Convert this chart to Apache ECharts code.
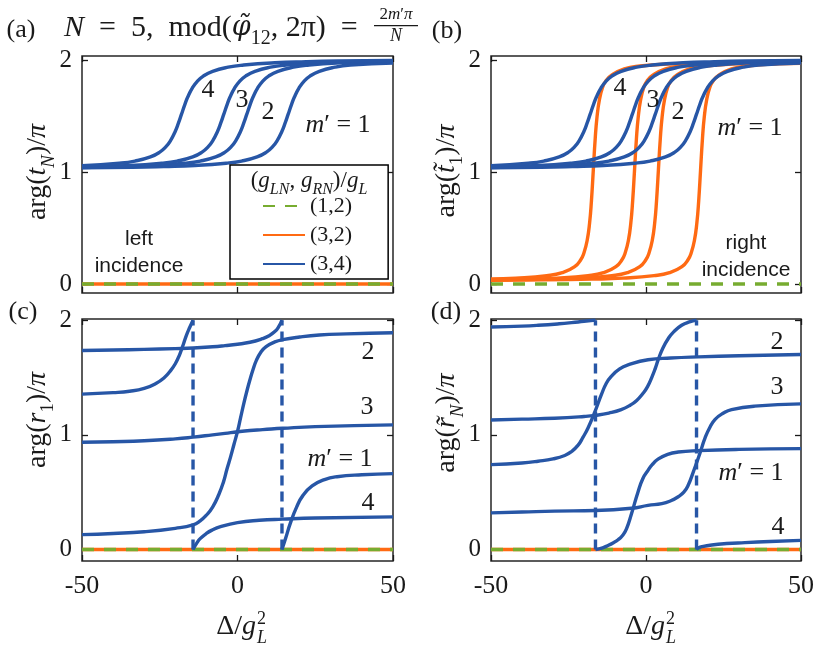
<!DOCTYPE html>
<html><head><meta charset="utf-8">
<script src="https://cdn.jsdelivr.net/npm/echarts@6/dist/echarts.min.js"></script>
<style>html,body{margin:0;padding:0;background:#fff}#c{width:831px;height:652px}</style>
</head><body><div id="c"></div>
<script>
// ---------------- data ----------------
const xTickValues = [-50, 0, 50];
const yTickValues = [0, 1, 2];
const zeroLine = [[-50, 0], [50, 0]];
const legendNames = ['(1,2)', '(3,2)', '(3,4)'];

// (a) arg(t_N)/pi and (b) arg(t~_1)/pi, (3,4) blue curves, m' = 1..4
const tBlue1 = [[-50,1.039],[-33.7,1.044],[-23.7,1.051],[-13.7,1.061],[-3.7,1.081],[1.3,1.100],[6.3,1.137],[9.3,1.180],[11.3,1.229],[12.8,1.285],[14.3,1.367],[15.3,1.439],[16.3,1.52],[17.3,1.601],[18.3,1.673],[19.8,1.755],[21.3,1.811],[23.3,1.860],[26.3,1.903],[31.3,1.940],[36.3,1.959],[50,1.976]];
const tBlue2 = [[-50,1.043],[-37,1.051],[-27,1.061],[-17,1.081],[-12,1.100],[-7,1.137],[-4,1.180],[-2,1.229],[-0.5,1.285],[1,1.367],[2,1.439],[3,1.52],[4,1.601],[5,1.673],[6.5,1.755],[8,1.811],[10,1.860],[13,1.903],[18,1.940],[23,1.959],[33,1.979],[43,1.989],[50,1.993]];
const tBlue3 = [[-50,1.047],[-34.4,1.061],[-24.4,1.081],[-19.4,1.100],[-14.4,1.137],[-11.4,1.180],[-9.4,1.229],[-7.9,1.285],[-6.4,1.367],[-5.4,1.439],[-4.4,1.52],[-3.4,1.601],[-2.4,1.673],[-0.9,1.755],[0.6,1.811],[2.6,1.860],[5.6,1.903],[10.6,1.940],[15.6,1.959],[25.6,1.979],[35.6,1.989],[50,1.996]];
const tBlue4 = [[-50,1.059],[-38,1.081],[-33,1.100],[-28,1.137],[-25,1.180],[-23,1.229],[-21.5,1.285],[-20,1.367],[-19,1.439],[-18,1.52],[-17,1.601],[-16,1.673],[-14.5,1.755],[-13,1.811],[-11,1.860],[-8,1.903],[-3,1.940],[2,1.959],[12,1.979],[22,1.989],[32,1.995],[50,2.0]];

// (b) (3,2) orange curves, m' = 1..4
const tOrange1 = [[-50,0.033],[-32.4,0.037],[-17.4,0.044],[-7.4,0.053],[2.6,0.075],[7.6,0.102],[11.6,0.156],[13.6,0.220],[14.6,0.280],[15.6,0.387],[16.4,0.545],[17,0.745],[17.6,1.02],[18.2,1.295],[18.8,1.495],[19.6,1.653],[20.6,1.760],[21.6,1.815],[23.6,1.87],[27.6,1.925],[32.6,1.95],[42.6,1.97],[50,1.975]];
const tOrange2 = [[-50,0.036],[-46,0.037],[-31,0.044],[-21,0.053],[-11,0.075],[-6,0.102],[-2,0.156],[0,0.220],[1,0.280],[2,0.387],[2.8,0.545],[3.4,0.745],[4,1.02],[4.6,1.295],[5.2,1.495],[6,1.653],[7,1.760],[8,1.815],[10,1.87],[14,1.925],[19,1.95],[29,1.97],[39,1.978],[50,1.982]];
const tOrange3 = [[-50,0.038],[-38.7,0.044],[-28.7,0.053],[-18.7,0.075],[-13.7,0.102],[-9.7,0.156],[-7.7,0.220],[-6.7,0.280],[-5.7,0.387],[-4.9,0.545],[-4.3,0.745],[-3.7,1.02],[-3.1,1.295],[-2.5,1.495],[-1.7,1.653],[-0.7,1.760],[0.3,1.815],[2.3,1.87],[6.3,1.925],[11.3,1.95],[21.3,1.97],[31.3,1.978],[50,1.985]];
const tOrange4 = [[-50,0.045],[-42,0.053],[-32,0.075],[-27,0.102],[-23,0.156],[-21,0.220],[-20,0.280],[-19,0.387],[-18.2,0.545],[-17.6,0.745],[-17,1.02],[-16.4,1.295],[-15.8,1.495],[-15,1.653],[-14,1.760],[-13,1.815],[-11,1.87],[-7,1.925],[-2,1.95],[8,1.97],[18,1.978],[33,1.984],[50,1.988]];

// (c) arg(r_1)/pi, (3,4) blue; "a" part before the 2 -> 0 wrap, "b" part after
const r1_m1a = [[-50,1.735],[-40,1.74],[-30,1.745],[-20,1.752],[-14.3,1.757],[-8,1.768],[-4,1.778],[0,1.79],[4,1.807],[8,1.838],[10,1.862],[12,1.9],[13.3,1.945],[14.3,2.0]];
const r1_m1b = [[14.3,0],[15.5,0.1],[17,0.23],[19,0.37],[21,0.47],[24,0.555],[28,0.61],[32,0.635],[40,0.652],[50,0.662]];
const r1_m2 = [[-50,0.13],[-40,0.14],[-30,0.155],[-20,0.185],[-14.3,0.215],[-12,0.25],[-10,0.30],[-8,0.37],[-6,0.48],[-4.5,0.59],[-3.4,0.7],[-2.2,0.81],[-1.1,0.92],[0,1.03],[1,1.15],[2,1.27],[3,1.38],[4,1.48],[5,1.57],[6,1.645],[7.5,1.72],[9.2,1.77],[12,1.81],[14.5,1.83],[20,1.853],[26.3,1.87],[35,1.88],[50,1.89]];
const r1_m3 = [[-50,0.935],[-40,0.94],[-30,0.948],[-20,0.965],[-14.3,0.98],[-8,1.0],[-4,1.013],[0,1.027],[4,1.038],[8.1,1.045],[14.5,1.057],[25,1.072],[50,1.087]];
const r1_m4a = [[-50,1.355],[-40,1.368],[-34.7,1.38],[-30,1.405],[-26.1,1.45],[-23.5,1.50],[-21.8,1.55],[-20,1.62],[-18.6,1.70],[-17.4,1.79],[-16.4,1.87],[-15.3,1.94],[-14.3,2.0]];
const r1_m4b = [[-14.3,0],[-13,0.06],[-12,0.095],[-10,0.14],[-8,0.172],[-5.7,0.198],[0,0.235],[7,0.255],[14.5,0.265],[25,0.275],[50,0.285]];
const r1_jumps = [-14.3, 14.3];

// (d) arg(r~_N)/pi, (3,4) blue
const rN_m1a = [[-50,1.94],[-40,1.948],[-34.8,1.955],[-28,1.968],[-24,1.978],[-20,1.99],[-16.3,2.0]];
const rN_m1b = [[-16.3,0],[-14,0.015],[-12.3,0.035],[-10.5,0.06],[-9,0.085],[-7.5,0.125],[-6.3,0.18],[-4.7,0.31],[-2.6,0.50],[-1,0.62],[0.65,0.69],[2,0.74],[4,0.79],[7,0.83],[10.4,0.85],[16.9,0.862],[30,0.873],[50,0.88]];
const rN_m2 = [[-50,0.74],[-40,0.755],[-34.8,0.77],[-30,0.79],[-26.2,0.82],[-24,0.855],[-21.9,0.91],[-20.3,0.98],[-18.7,1.06],[-16.5,1.20],[-14.4,1.35],[-12.8,1.45],[-11.2,1.51],[-8.5,1.575],[-5.8,1.61],[0.65,1.655],[8,1.67],[16.9,1.68],[30,1.69],[50,1.70]];
const rN_m3 = [[-50,0.32],[-40,0.327],[-29.5,0.335],[-16.3,0.34],[-4.6,0.36],[0.65,0.385],[5.1,0.40],[8,0.425],[10.4,0.46],[12.2,0.50],[13.6,0.56],[15.3,0.68],[16.9,0.80],[18,0.89],[19,0.97],[20.5,1.06],[22.3,1.135],[25,1.19],[27.6,1.22],[35,1.25],[50,1.27]];
const rN_m4a = [[-50,1.13],[-40,1.137],[-29.5,1.145],[-20,1.16],[-16.3,1.17],[-12,1.19],[-8,1.22],[-5,1.26],[-3,1.30],[-1,1.36],[0.5,1.42],[2,1.51],[3,1.58],[4,1.66],[5.5,1.76],[7.2,1.84],[9,1.9],[11.5,1.955],[14,1.985],[16.3,2.0]];
const rN_m4b = [[16.3,0],[17,0.015],[18,0.025],[21.2,0.04],[26,0.052],[31.9,0.06],[40,0.07],[50,0.08]];
const rN_jumps = [-16.3, 16.3];

// ---------------- styling / layout ----------------
const SERIF = "'Liberation Serif','DejaVu Serif',serif";
const SANS = "'Liberation Sans',Arial,sans-serif";
const BLUE = '#2756a6', ORANGE = '#ff6a13', GREEN = '#77ac30', INK = '#1a1a1a';

const grids = [
  {left: 82, top: 56, width: 311, height: 237},
  {left: 491, top: 56, width: 310, height: 237},
  {left: 82, top: 319, width: 311, height: 242},
  {left: 491, top: 319, width: 310, height: 242}
];
const yRanges = [[-0.08, 2.04], [-0.08, 2.04], [-0.1, 2.01], [-0.1, 2.01]];

const tickStyle = {show: true, inside: true, length: 6, lineStyle: {color: INK, width: 1.3}};
const noLine = {show: false, onZero: false};
const xAxis = [], yAxis = [];
grids.forEach((g, i) => {
  xAxis.push({gridIndex: i, type: 'value', min: -50, max: 50, interval: 50, position: 'bottom',
    axisLine: noLine, splitLine: {show: false},
    axisTick: Object.assign({customValues: xTickValues}, tickStyle),
    axisLabel: {show: i >= 2, customValues: xTickValues, showMinLabel: true, showMaxLabel: true,
      fontFamily: SERIF, fontSize: 26, color: INK, margin: 12}});
  xAxis.push({gridIndex: i, type: 'value', min: -50, max: 50, interval: 50, position: 'top',
    axisLine: noLine, splitLine: {show: false},
    axisTick: Object.assign({customValues: xTickValues}, tickStyle), axisLabel: {show: false}});
  yAxis.push({gridIndex: i, type: 'value', min: yRanges[i][0], max: yRanges[i][1], position: 'left',
    axisLine: noLine, splitLine: {show: false},
    axisTick: Object.assign({customValues: yTickValues}, tickStyle),
    axisLabel: {show: true, customValues: yTickValues, showMinLabel: true, showMaxLabel: true,
      fontFamily: SERIF, fontSize: 25, color: INK, margin: 10}});
  yAxis.push({gridIndex: i, type: 'value', min: yRanges[i][0], max: yRanges[i][1], position: 'right',
    axisLine: noLine, splitLine: {show: false},
    axisTick: Object.assign({customValues: yTickValues}, tickStyle), axisLabel: {show: false}});
});

function ln(gi, name, data, color, dash) {
  return {type: 'line', name: name, xAxisIndex: gi * 2, yAxisIndex: gi * 2, data: data,
    symbol: 'none', smooth: dash ? false : 0.5, silent: true,
    lineStyle: {color: color, width: 3.4, type: dash || 'solid', cap: 'butt', join: 'round'},
    itemStyle: {color: color}, animation: false};
}
const GREEN_DASH = [12, 10];
const JUMP_DASH = [10, 6];

const series = [];
// orange layer
series.push(ln(0, '(3,2)', zeroLine, ORANGE));
[tOrange1, tOrange2, tOrange3, tOrange4].forEach(d => series.push(ln(1, '(3,2)', d, ORANGE)));
series.push(ln(2, '(3,2)', zeroLine, ORANGE));
series.push(ln(3, '(3,2)', zeroLine, ORANGE));
// green layer
[0, 1, 2, 3].forEach(gi => series.push(ln(gi, '(1,2)', zeroLine, GREEN, GREEN_DASH)));
// blue layer
[tBlue1, tBlue2, tBlue3, tBlue4].forEach(d => { series.push(ln(0, '(3,4)', d, BLUE)); });
[tBlue1, tBlue2, tBlue3, tBlue4].forEach(d => { series.push(ln(1, '(3,4)', d, BLUE)); });
[r1_m1a, r1_m1b, r1_m2, r1_m3, r1_m4a, r1_m4b].forEach(d => series.push(ln(2, '(3,4)', d, BLUE)));
[rN_m1a, rN_m1b, rN_m2, rN_m3, rN_m4a, rN_m4b].forEach(d => series.push(ln(3, '(3,4)', d, BLUE)));
r1_jumps.forEach(x => series.push(ln(2, '(3,4)', [[x, 0], [x, 2]], BLUE, JUMP_DASH)));
rN_jumps.forEach(x => series.push(ln(3, '(3,4)', [[x, 0], [x, 2]], BLUE, JUMP_DASH)));

// ---------------- text (rich) ----------------
function rich(fs, sfs, lh) {
  return {
    r: {fontFamily: SERIF, fontSize: fs, lineHeight: lh, color: INK},
    i: {fontFamily: SERIF, fontSize: fs, fontStyle: 'italic', lineHeight: lh, color: INK},
    d: {fontFamily: "'DejaVu Serif',serif", fontSize: fs * 0.9, fontStyle: 'italic', lineHeight: lh, color: INK},
    s: {fontFamily: SERIF, fontSize: sfs, fontStyle: 'italic', lineHeight: lh - 16, verticalAlign: 'bottom', color: INK},
    su: {fontFamily: SERIF, fontSize: sfs, lineHeight: lh - 16, verticalAlign: 'bottom', color: INK}
  };
}
const R30 = rich(30, 20, 42);
const R28 = rich(28, 19, 40);
const R26 = rich(26, 18, 38);
const R24 = rich(23, 16, 34);
const RS = rich(18, 12, 22);

function txt(x, y, text, richSet, align, rot) {
  const el = {type: 'text', x: x, y: y, z: 100,
    style: {text: text, rich: richSet, align: align || 'center', verticalAlign: 'middle', fill: INK}};
  if (rot) el.rotation = rot;
  return el;
}
function plain(x, y, text, fs, family) {
  return {type: 'text', x: x, y: y, z: 100,
    style: {text: text, fontFamily: family, fontSize: fs, fill: INK, align: 'center', verticalAlign: 'middle', lineHeight: 27}};
}

const graphic = [
  plain(21, 30, '(a)', 26, SERIF), plain(447, 31, '(b)', 26, SERIF),
  plain(23, 312, '(c)', 26, SERIF), plain(446, 312, '(d)', 26, SERIF),
  // title
  txt(64, 28, '{i|N}{r|  =  5,  mod(}{d|φ̃}{su|12}{r|, 2π)  = }', R30, 'left'),
  txt(396, 15, '{r|2}{i|m}{r|′}{i|π}', rich(17, 12, 22)),
  {type: 'rect', z: 100, shape: {x: 374, y: 25, width: 44, height: 1.2}, style: {fill: INK}},
  txt(396, 36, '{i|N}', RS),
  // y titles
  txt(38, 172, '{r|arg(}{i|t}{s|N}{r|)/}{i|π}', R28, 'center', Math.PI / 2),
  txt(447, 171, '{r|arg(}{i|t̃}{su|1}{r|)/}{i|π}', R28, 'center', Math.PI / 2),
  txt(38, 420, '{r|arg(}{i|r}{su|1}{r|)/}{i|π}', R28, 'center', Math.PI / 2),
  txt(447, 423, '{r|arg(}{i|r̃}{s|N}{r|)/}{i|π}', R28, 'center', Math.PI / 2),
  // x titles
  txt(256, 627, '{r|Δ/}{i|g}', R28, 'right'),
  txt(257, 619, '{r|2}', RS, 'left'),
  txt(257, 638, '{i|L}', RS, 'left'),
  txt(665, 627, '{r|Δ/}{i|g}', R28, 'right'),
  txt(666, 619, '{r|2}', RS, 'left'),
  txt(666, 638, '{i|L}', RS, 'left'),
  // curve labels (a)
  plain(208, 90, '4', 26, SERIF), plain(242, 100, '3', 26, SERIF), plain(268, 112, '2', 26, SERIF),
  txt(338, 125, "{i|m}{r|′ = 1}", R26),
  // (b)
  plain(620, 88, '4', 26, SERIF), plain(653, 100, '3', 26, SERIF), plain(678, 112, '2', 26, SERIF),
  txt(750, 128, "{i|m}{r|′ = 1}", R26),
  // (c)
  plain(368, 352, '2', 26, SERIF), plain(367, 407, '3', 26, SERIF),
  txt(340, 459, "{i|m}{r|′ = 1}", R26), plain(368, 503, '4', 26, SERIF),
  // (d)
  plain(777, 342, '2', 26, SERIF), plain(777, 387, '3', 26, SERIF),
  txt(751, 473, "{i|m}{r|′ = 1}", R26), plain(778, 527, '4', 26, SERIF),
  // incidence notes
  plain(139, 253, 'left\nincidence', 21, SANS),
  plain(746, 257, 'right\nincidence', 21, SANS),
  // legend title
  txt(309, 181, '{r|(}{i|g}{s|LN}{r|, }{i|g}{s|RN}{r|)/}{i|g}{s|L}', R24)
];

const option = {
  backgroundColor: '#fff',
  animation: false,
  grid: grids.map(g => Object.assign({show: true, borderColor: '#262626', borderWidth: 1.5, backgroundColor: 'transparent'}, g)),
  xAxis: xAxis,
  yAxis: yAxis,
  legend: {
    data: legendNames, orient: 'vertical', left: 230, top: 165,
    padding: [30, 36, 4, 32], itemGap: 7, itemWidth: 42, itemHeight: 14,
    borderColor: '#000', borderWidth: 1.5, backgroundColor: '#fff', selectedMode: false,
    itemStyle: {opacity: 0},
    textStyle: {fontFamily: SERIF, fontSize: 22, color: INK, lineHeight: 22}
  },
  series: series,
  graphic: graphic
};
const chart = echarts.init(document.getElementById('c'));
chart.setOption(option);
</script></body></html>
